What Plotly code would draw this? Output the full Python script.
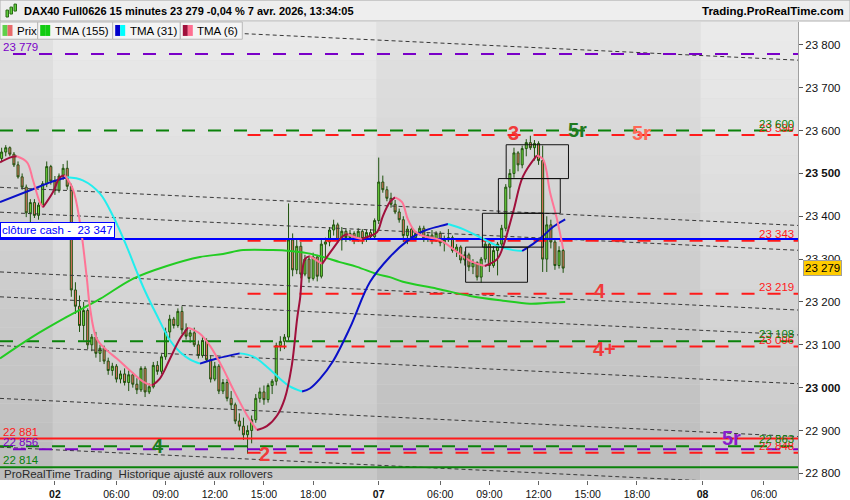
import plotly.graph_objects as go

# ---------------------------------------------------------------------------
# DATA (DAX40 Full0626, 15 minutes)
# bar index 0 = 2 avr. 02:15 ; session 02:15-22:00 = 79 bars per day
# ---------------------------------------------------------------------------

FIRST_BAR = -13

OPEN = [
    23535, 23550, 23560, 23545, 23520, 23492, 23468, 23408, 23432, 23402, 23426, 23476, 23516,
    23482, 23460, 23494, 23512, 23470, 23228, 23190, 23145, 23180, 23100,
    23118, 23080, 23092, 23062, 23040, 23050, 23020, 23032, 23012, 23030,
    23008, 22995, 23045, 22990, 23002, 23052, 23038, 23072, 23130, 23160,
    23145, 23178, 23135, 23120, 23128, 23100, 23075, 23110, 23065, 23020,
    23050, 22992, 23012, 22975, 22960, 22922, 22910, 22890, 22900, 22925,
    22975, 22990, 22972, 23005, 23015, 23098, 23108, 23118, 23345, 23275,
    23330, 23265, 23300, 23255, 23305, 23260, 23335, 23340, 23368, 23380,
    23345, 23365, 23350, 23360, 23345, 23365, 23348, 23362, 23352, 23390,
    23480, 23462, 23442, 23428, 23410, 23392, 23355, 23370, 23350, 23360,
    23372, 23348, 23356, 23345, 23360, 23338, 23345, 23350, 23320, 23328,
    23298, 23310, 23282, 23292, 23258, 23300, 23335, 23285, 23320, 23335,
    23372, 23468, 23500, 23548, 23520, 23558, 23572, 23560, 23570, 23530,
    23300, 23380, 23340, 23285, 23320,
]
HIGH = [
    23560, 23566, 23563, 23550, 23528, 23500, 23474, 23440, 23440, 23432, 23482, 23528, 23520,
    23494, 23500, 23522, 23530, 23476, 23246, 23215, 23200, 23185, 23125,
    23130, 23100, 23098, 23070, 23058, 23055, 23040, 23045, 23040, 23035,
    23022, 23050, 23050, 23010, 23060, 23062, 23078, 23140, 23170, 23165,
    23185, 23190, 23150, 23135, 23140, 23110, 23118, 23115, 23075, 23060,
    23055, 23020, 23020, 22992, 22965, 22940, 22930, 22912, 22935, 22985,
    23000, 23005, 23010, 23020, 23105, 23120, 23125, 23430, 23360, 23345,
    23340, 23310, 23305, 23315, 23310, 23345, 23350, 23375, 23392, 23385,
    23375, 23370, 23368, 23365, 23372, 23370, 23368, 23370, 23395, 23537,
    23495, 23470, 23455, 23438, 23418, 23400, 23378, 23375, 23365, 23378,
    23378, 23360, 23368, 23365, 23365, 23355, 23370, 23355, 23335, 23332,
    23318, 23315, 23300, 23295, 23305, 23345, 23340, 23330, 23340, 23380,
    23475, 23510, 23560, 23552, 23565, 23580, 23588, 23578, 23575, 23565,
    23400, 23392, 23345, 23330, 23325,
]
LOW = [
    23528, 23540, 23540, 23515, 23488, 23462, 23398, 23385, 23396, 23392, 23420, 23468, 23474,
    23450, 23455, 23485, 23462, 23212, 23172, 23130, 23110, 23090, 23085,
    23070, 23060, 23055, 23030, 23028, 23012, 23010, 23005, 22992, 23000,
    22985, 22990, 22978, 22985, 22998, 23030, 23032, 23065, 23115, 23138,
    23140, 23125, 23112, 23105, 23095, 23068, 23070, 23060, 23012, 23015,
    22985, 22985, 22968, 22950, 22915, 22900, 22878, 22846, 22870, 22918,
    22965, 22960, 22965, 22985, 23005, 23085, 23090, 23110, 23260, 23265,
    23255, 23260, 23245, 23250, 23248, 23255, 23305, 23330, 23355, 23338,
    23320, 23340, 23342, 23335, 23340, 23335, 23340, 23345, 23348, 23382,
    23455, 23435, 23420, 23405, 23385, 23340, 23335, 23345, 23345, 23355,
    23340, 23340, 23335, 23340, 23330, 23318, 23340, 23315, 23305, 23290,
    23285, 23272, 23265, 23250, 23245, 23292, 23270, 23280, 23262, 23325,
    23365, 23440, 23490, 23505, 23512, 23540, 23555, 23530, 23520, 23270,
    23270, 23325, 23275, 23278, 23268,
]
CLOSE = [
    23550, 23560, 23545, 23520, 23492, 23468, 23408, 23432, 23402, 23426, 23476, 23516, 23482,
    23460, 23494, 23512, 23470, 23228, 23190, 23145, 23180, 23100, 23118,
    23080, 23092, 23062, 23040, 23050, 23020, 23032, 23012, 23030, 23008,
    22995, 23045, 22990, 23002, 23052, 23038, 23072, 23130, 23160, 23145,
    23178, 23135, 23120, 23128, 23100, 23075, 23110, 23065, 23020, 23050,
    22992, 23012, 22975, 22960, 22922, 22910, 22890, 22900, 22925, 22975,
    22990, 22972, 23005, 23015, 23098, 23108, 23118, 23345, 23275, 23330,
    23265, 23300, 23255, 23305, 23260, 23335, 23340, 23368, 23380, 23345,
    23365, 23350, 23360, 23345, 23365, 23348, 23362, 23352, 23390, 23480,
    23462, 23442, 23428, 23410, 23392, 23355, 23370, 23350, 23360, 23372,
    23348, 23356, 23345, 23360, 23338, 23345, 23350, 23320, 23328, 23298,
    23310, 23282, 23292, 23258, 23300, 23335, 23285, 23320, 23335, 23372,
    23468, 23500, 23548, 23520, 23558, 23572, 23560, 23570, 23530, 23300,
    23380, 23340, 23285, 23320, 23279,
]
BARS = list(range(FIRST_BAR, FIRST_BAR + len(CLOSE)))

# moving averages, sampled along the drawn curves (bar, price)
TMA155_X = [-13.4, -5.4, 2.9, 11.0, 19.0, 27.3, 35.4, 41.0, 45.9, 53.2, 57.3, 61.5,
            65.4, 69.5, 73.7, 78.6, 81.7, 84.9, 93.2, 101.3, 109.3, 115.9, 120.3, 124.5]
TMA155_Y = [23068, 23119, 23165, 23207, 23254, 23284, 23305, 23312, 23321, 23321, 23319, 23314,
            23305, 23293, 23282, 23265, 23258, 23247, 23231, 23214, 23203, 23196, 23198, 23200]

TMA31_X = [-13.4, -5.4, -1.2, 2.9, 6.8, 11.0, 14.2, 17.5, 20.0, 22.0, 24.8, 28.1, 30.5, 32.9,
           35.4, 39.5, 45.1, 48.3, 51.7, 54.9, 57.3, 60.3, 62.2, 64.7, 67.8, 72.0, 76.9, 81.7,
           85.9, 89.8, 93.9, 95.9, 99.6, 103.7, 107.9, 111.8, 114.0, 116.6, 119.1, 121.5, 124.5]
TMA31_Y = [23433, 23463, 23479, 23491, 23484, 23453, 23400, 23330, 23270, 23225, 23170, 23110,
           23083, 23066, 23056, 23068, 23080, 23073, 23049, 23021, 23003, 22991, 22998, 23021,
           23061, 23140, 23247, 23305, 23342, 23365, 23377, 23382, 23370, 23351, 23331, 23321,
           23319, 23335, 23354, 23375, 23393]

TMA6_X = [-13.4, -11.0, -9.3, -6.8, -5.4, -3.7, -2.9, -0.5, 1.2, 2.4, 4.4, 6.1, 7.8, 8.5, 10.2,
          12.7, 15.1, 18.3, 21.5, 23.7, 25.6, 28.1, 30.5, 32.5, 35.4, 37.8, 41.0, 43.4, 46.9,
          49.3, 51.7, 54.2, 56.1, 57.8, 59.1, 59.8, 61.0, 62.2, 65.2, 67.8, 70.3, 71.5, 73.2,
          74.9, 76.9, 78.6, 80.0, 81.7, 83.0, 84.7, 86.1, 87.8, 89.8, 93.9, 97.1, 101.3, 104.9,
          107.9, 109.3, 111.8, 114.2, 117.6, 119.1, 120.8, 122.5, 124.0]
TMA6_Y = [23526, 23537, 23540, 23526, 23486, 23433, 23421, 23456, 23491, 23496, 23463, 23386,
          23254, 23191, 23114, 23087, 23068, 23040, 23014, 23005, 23021, 23068, 23114, 23140,
          23126, 23098, 23045, 22998, 22935, 22901, 22910, 22935, 22975, 23052, 23161, 23207,
          23300, 23307, 23289, 23324, 23354, 23358, 23351, 23347, 23354, 23363, 23400, 23433,
          23444, 23433, 23393, 23365, 23354, 23345, 23324, 23296, 23284, 23300, 23328, 23410,
          23493, 23542, 23533, 23456, 23393, 23324]

# horizontal levels
RED_DASH_LEVELS = [23590, 23343, 23219, 23096, 22848]
GREEN_DASH_LEVELS = [23600, 23108, 22863]
PURPLE_DASH_LEVELS = [23779, 22856]
RED_SOLID_LEVEL = 22881
GREEN_SOLID_LEVEL = 22814
CASH_CLOSE = 23347
RED_LEVEL_START = 47

# parallel channel lines (price at left edge / right edge)
CHANNEL_X = [-13.4, 181.3]
CHANNEL_LEFT = [23853.5, 23467.7, 23409.6, 23270.1, 23212.0, 23098.1, 22974.9, 22861.0]
CHANNEL_RIGHT = [23764.4, 23378.6, 23320.6, 23181.1, 23123.0, 23009.1, 22885.9, 22772.0]

# stair boxes
BOX_X0 = [100.2, 104.3, 108.2, 110.1]
BOX_X1 = [115.3, 119.2, 123.3, 125.3]
BOX_LO = [23246, 23328, 23407, 23488]
BOX_HI = [23328, 23407, 23488, 23567]

# wave labels
WAVE_TEXT = ["3", "5r", "5r", "4", "4+", "4", "2", "5r"]
WAVE_BAR = [112.0, 127.4, 143.0, 133.0, 134.0, 25.1, 51.2, 165.0]
WAVE_PRICE = [23595, 23602, 23595, 23226, 23091, 22863, 22845, 22882]
WAVE_COLOR = ["#f03a3a", "#1f7a1f", "#ff6655", "#f03a3a", "#f03a3a", "#1f7a1f", "#f03a3a", "#8a1ccc"]

LAST_PRICE = 23279

TICK_BARS = [0, 15, 27, 39, 51, 63, 79, 94, 106, 118, 130, 142, 158, 173]
TICK_TEXT = ["<b>02</b>", "06:00", "09:00", "12:00", "15:00", "18:00", "<b>07</b>",
             "06:00", "09:00", "12:00", "15:00", "18:00", "<b>08</b>", "06:00"]
PRICE_TICKS = [22800, 22900, 23000, 23100, 23200, 23300, 23400, 23500, 23600, 23700, 23800]
PRICE_TEXT = ["22 800", "22 900", "<b>23 000</b>", "23 100", "23 200", "23 300", "23 400",
              "<b>23 500</b>", "23 600", "23 700", "23 800"]

DAY_EDGES = [-13.4, -0.5, 78.5, 157.5, 181.3]

# ---------------------------------------------------------------------------
# styling
# ---------------------------------------------------------------------------
X_RANGE = [-13.4, 181.3]
Y_RANGE = [22784.4, 23853.5]
FONT = "Liberation Sans, Arial, sans-serif"
RED = "#ff1a1a"
GREEN = "#0a820a"
PURPLE = "#7a00c8"
PLOT_W, PLOT_TOP, PLOT_BOTTOM = 798, 22, 482


def px(x):
    return x / PLOT_W


def py(y):
    return (PLOT_BOTTOM - y) / (PLOT_BOTTOM - PLOT_TOP)


def fmt(v):
    return f"{v:,}".replace(",", " ")


def direction_segments(xs, ys):
    segs, i0 = [], 0
    for i in range(1, len(xs)):
        rising = ys[i] >= ys[i - 1]
        if i == len(xs) - 1 or (ys[i + 1] >= ys[i]) != rising:
            segs.append((xs[i0:i + 1], ys[i0:i + 1], rising))
            i0 = i
    return segs


fig = go.Figure()

# --- background: vertical gradient, alternating day tint ---
N_BANDS = 24
for k, (x0, x1) in enumerate(zip(DAY_EDGES[:-1], DAY_EDGES[1:])):
    top, bottom = (226, 188) if k % 2 == 0 else (235, 199)
    for i in range(N_BANDS):
        g = round(top + (bottom - top) * (i + 0.5) / N_BANDS)
        fig.add_shape(type="rect", xref="x", yref="paper", x0=x0, x1=x1,
                      y0=1 - (i + 1) / N_BANDS, y1=1 - i / N_BANDS,
                      fillcolor=f"rgb({g},{g},{g})", line_width=0, layer="below")

# --- channel lines ---
for left, right in zip(CHANNEL_LEFT, CHANNEL_RIGHT):
    fig.add_trace(go.Scatter(x=CHANNEL_X, y=[left, right], mode="lines",
                             line=dict(color="#383838", width=1, dash="4px,3px"),
                             hoverinfo="skip", showlegend=False))

# --- horizontal levels ---
def level(y, x0, color, dash, width=2):
    fig.add_trace(go.Scatter(x=[x0, X_RANGE[1]], y=[y, y], mode="lines",
                             line=dict(color=color, width=width, dash=dash),
                             hoverinfo="skip", showlegend=False))


for v in GREEN_DASH_LEVELS:
    level(v, X_RANGE[0], GREEN, "13px,13px")
for v in PURPLE_DASH_LEVELS:
    level(v, X_RANGE[0], PURPLE, "0px,13px,13px,0px")
for v in RED_DASH_LEVELS:
    level(v, RED_LEVEL_START, RED, "13px,13px")
level(RED_SOLID_LEVEL, X_RANGE[0], RED, "solid")
level(GREEN_SOLID_LEVEL, X_RANGE[0], GREEN, "solid")

# --- stair boxes ---
for x0, x1, lo, hi in zip(BOX_X0, BOX_X1, BOX_LO, BOX_HI):
    fig.add_shape(type="rect", xref="x", yref="y", x0=x0, x1=x1, y0=lo, y1=hi,
                  line=dict(color="#111111", width=1), fillcolor="rgba(0,0,0,0)")

# --- candles ---
fig.add_trace(go.Candlestick(
    x=BARS, open=OPEN, high=HIGH, low=LOW, close=CLOSE,
    increasing=dict(line=dict(color="#1f520e", width=1), fillcolor="#72dc3e"),
    decreasing=dict(line=dict(color="#1f520e", width=1), fillcolor="#ee7466"),
    whiskerwidth=0, hoverinfo="skip", showlegend=False,
))

# --- cash close line ---
level(CASH_CLOSE, X_RANGE[0], "#0000ff", "solid")

# --- moving averages ---
fig.add_trace(go.Scatter(x=TMA155_X, y=TMA155_Y, mode="lines", line_shape="spline",
                         line=dict(color="#22cc22", width=2), hoverinfo="skip", showlegend=False))
for xs, ys, up in direction_segments(TMA31_X, TMA31_Y):
    fig.add_trace(go.Scatter(x=xs, y=ys, mode="lines", line_shape="spline",
                             line=dict(color="#0a10c8" if up else "#22eeee", width=2),
                             hoverinfo="skip", showlegend=False))
for xs, ys, up in direction_segments(TMA6_X, TMA6_Y):
    fig.add_trace(go.Scatter(x=xs, y=ys, mode="lines", line_shape="spline",
                             line=dict(color="#a0103c" if up else "#ff7496", width=2),
                             hoverinfo="skip", showlegend=False))

# --- annotations ---
ann = []
for v, color in ([(v, RED) for v in RED_DASH_LEVELS] + [(v, GREEN) for v in GREEN_DASH_LEVELS]):
    ann.append(dict(x=X_RANGE[1], y=v, xref="x", yref="y", text=fmt(v), showarrow=False,
                    xanchor="right", yanchor="bottom", xshift=-2, yshift=-1,
                    font=dict(color=color, size=11.5, family=FONT)))
for v, color in [(PURPLE_DASH_LEVELS[0], PURPLE), (RED_SOLID_LEVEL, RED),
                 (PURPLE_DASH_LEVELS[1], PURPLE), (GREEN_SOLID_LEVEL, GREEN)]:
    ann.append(dict(x=X_RANGE[0], y=v, xref="x", yref="y", text=fmt(v), showarrow=False,
                    xanchor="left", yanchor="bottom", xshift=1, yshift=-1,
                    font=dict(color=color, size=11.5, family=FONT)))
for t, xb, yp, c in zip(WAVE_TEXT, WAVE_BAR, WAVE_PRICE, WAVE_COLOR):
    ann.append(dict(x=xb, y=yp, xref="x", yref="y", text=f"<b>{t}</b>", showarrow=False,
                    xanchor="center", yanchor="middle",
                    font=dict(color=c, size=20, family=FONT)))
ann.append(dict(x=0, y=CASH_CLOSE, xref="paper", yref="y", text="clôture cash -  " + fmt(CASH_CLOSE),
                showarrow=False, xanchor="left", yanchor="bottom", yshift=1,
                bgcolor="white", bordercolor="#0000ff", borderwidth=1, borderpad=1,
                font=dict(color="#0000ff", size=11.5, family=FONT)))
ann.append(dict(x=1, y=LAST_PRICE, xref="paper", yref="y", text=fmt(LAST_PRICE), showarrow=False,
                xanchor="left", yanchor="middle", xshift=5, bgcolor="#ffcc00",
                bordercolor="#a0a0a0", borderwidth=1, borderpad=1,
                font=dict(color="black", size=11.5, family=FONT)))
ann.append(dict(x=px(2), y=py(476), xref="paper", yref="paper",
                text="ProRealTime Trading  Historique ajusté aux rollovers", showarrow=False,
                xanchor="left", yanchor="middle", font=dict(color="#2a2a2a", size=11.5, family=FONT)))

# header
fig.add_shape(type="rect", xref="paper", yref="paper", x0=0, x1=850 / PLOT_W,
              y0=py(21), y1=py(0), fillcolor="#eeeeee", line=dict(color="#b0b0b0", width=1))
for cx, y0, y1 in [(6, 10, 17), (10, 7, 14), (14, 4, 11)]:
    fig.add_shape(type="rect", xref="paper", yref="paper", x0=px(cx), x1=px(cx + 2.5),
                  y0=py(y1), y1=py(y0), fillcolor="#5fcf3a", line=dict(color="#2a6a16", width=1))
ann.append(dict(x=px(22), y=py(11), xref="paper", yref="paper",
                text="<b>DAX40 Full0626 15 minutes 23 279 -0,04 % 7 avr. 2026, 13:34:05</b>",
                showarrow=False, xanchor="left", yanchor="middle",
                font=dict(color="black", size=11, family=FONT)))
ann.append(dict(x=px(846), y=py(11), xref="paper", yref="paper", text="<b>Trading.ProRealTime.com</b>",
                showarrow=False, xanchor="right", yanchor="middle",
                font=dict(color="black", size=11.5, family=FONT)))

# legend row
LEGEND_BOXES = [(0, 37.7, "Prix", ["#5ed04a", "#e86a6a"]),
                (37.7, 112.7, "TMA (155)", ["#11cc11", "#11cc11"]),
                (112.7, 180.3, "TMA (31)", ["#0000cc", "#00ffff"]),
                (180.3, 242.3, "TMA (6)", ["#a0103c", "#ff6f91"])]
for x0, x1, label, chips in LEGEND_BOXES:
    fig.add_shape(type="rect", xref="paper", yref="paper", x0=px(x0), x1=px(x1),
                  y0=py(39.3), y1=py(22), fillcolor="#f4f4f4", line=dict(color="#b8b8b8", width=1))
    fig.add_shape(type="rect", xref="paper", yref="paper", x0=px(x0 + 2.5), x1=px(x0 + 7.5),
                  y0=py(36), y1=py(25), fillcolor=chips[0], line_width=0)
    fig.add_shape(type="rect", xref="paper", yref="paper", x0=px(x0 + 7.5), x1=px(x0 + 12.5),
                  y0=py(36), y1=py(25), fillcolor=chips[1], line_width=0)
    ann.append(dict(x=px(x0 + 15), y=py(31), xref="paper", yref="paper", text=label,
                    showarrow=False, xanchor="left", yanchor="middle",
                    font=dict(color="black", size=11.5, family=FONT)))

fig.update_layout(
    width=850, height=500,
    margin=dict(l=0, r=52, t=22, b=18),
    paper_bgcolor="white", plot_bgcolor="#d8d8d8",
    font=dict(family=FONT, color="black"),
    showlegend=False,
    annotations=ann,
    xaxis=dict(range=X_RANGE, rangeslider=dict(visible=False), showgrid=False, zeroline=False,
               tickmode="array", tickvals=TICK_BARS, ticktext=TICK_TEXT, ticks="outside",
               ticklen=4, tickcolor="#666", tickfont=dict(size=10.5, family=FONT, color="#111"),
               showline=False, fixedrange=True),
    yaxis=dict(range=Y_RANGE, side="right", showgrid=False, zeroline=False,
               tickmode="array", tickvals=PRICE_TICKS, ticktext=PRICE_TEXT, ticks="outside",
               ticklen=4, tickcolor="#555", tickfont=dict(size=11.5, family=FONT, color="#111"),
               showline=True, linecolor="#a0a0a0", linewidth=1),
)

# the browser's default 8px body margin would push the 850x500 figure off the page
fig.write_html("out.html", config={"displayModeBar": False},
               post_script="document.body.style.margin='0px';")
